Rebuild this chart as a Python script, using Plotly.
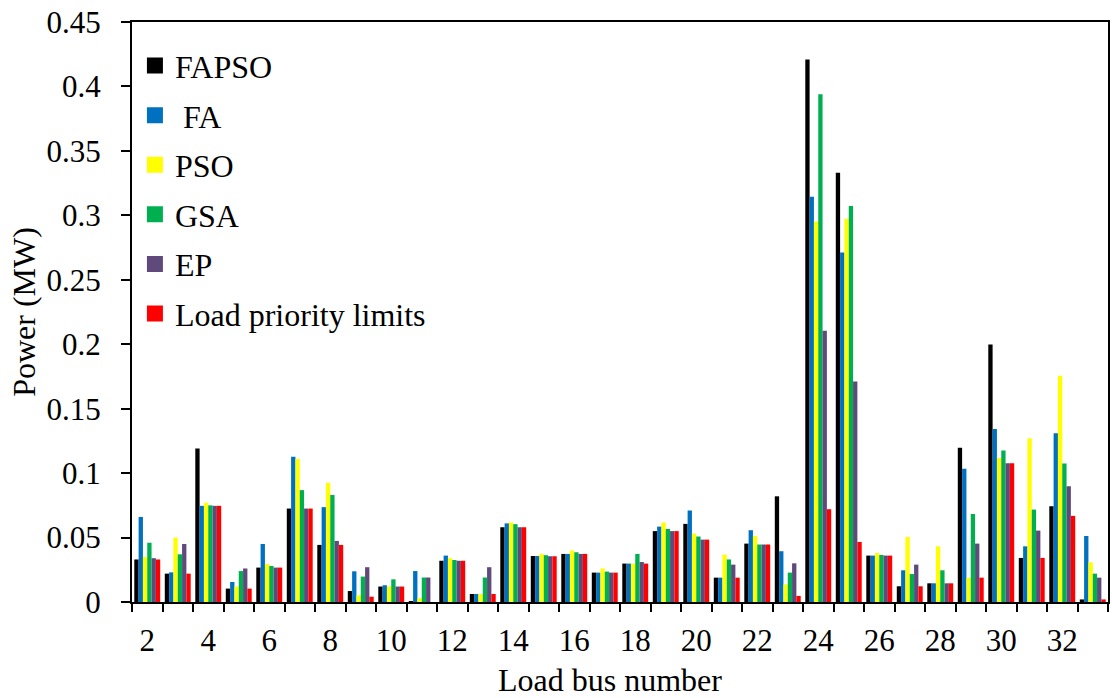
import plotly.graph_objects as go

# Load bus numbers on the x axis
buses = list(range(2, 34))

fapso = [0.033, 0.022, 0.119, 0.0104, 0.0267, 0.0725, 0.0443, 0.0085, 0.012, 0.0005,
         0.032, 0.0062, 0.058, 0.0357, 0.0373, 0.0228, 0.0298, 0.055, 0.0606, 0.0189,
         0.0453, 0.082, 0.421, 0.333, 0.036, 0.0122, 0.0145, 0.1196, 0.1998, 0.0342,
         0.0743, 0.002]
fa = [0.066, 0.023, 0.0746, 0.0155, 0.045, 0.1127, 0.0736, 0.0238, 0.013, 0.024,
      0.036, 0.0062, 0.061, 0.0357, 0.0373, 0.0228, 0.0298, 0.0585, 0.071, 0.0189,
      0.0557, 0.0394, 0.3144, 0.2712, 0.036, 0.0246, 0.0145, 0.1033, 0.1343, 0.0432,
      0.131, 0.0512]
pso = [0.035, 0.050, 0.077, 0.012, 0.0295, 0.111, 0.0925, 0.0052, 0.012, 0.003,
       0.034, 0.0062, 0.0617, 0.0373, 0.040, 0.026, 0.0298, 0.0617, 0.0531, 0.0368,
       0.0513, 0.0137, 0.2953, 0.2974, 0.038, 0.0505, 0.0432, 0.0189, 0.1118, 0.127,
       0.1755, 0.0308]
gsa = [0.046, 0.037, 0.075, 0.024, 0.028, 0.0868, 0.083, 0.0197, 0.0176, 0.019,
       0.0326, 0.019, 0.0604, 0.0363, 0.0386, 0.0236, 0.0373, 0.0567, 0.0508, 0.033,
       0.0446, 0.0228, 0.394, 0.3072, 0.0365, 0.0217, 0.0246, 0.0683, 0.1175, 0.0717,
       0.1074, 0.022]
ep = [0.034, 0.045, 0.0746, 0.026, 0.0267, 0.0725, 0.0474, 0.027, 0.012, 0.019,
      0.032, 0.027, 0.058, 0.0355, 0.0373, 0.0228, 0.031, 0.055, 0.0484, 0.029,
      0.0446, 0.030, 0.2104, 0.171, 0.036, 0.029, 0.0145, 0.0453, 0.1077, 0.0554,
      0.0898, 0.0189]
load_limits = [0.033, 0.022, 0.0746, 0.0104, 0.0267, 0.0725, 0.0443, 0.0041, 0.012, 0.0,
               0.032, 0.0062, 0.058, 0.0355, 0.0373, 0.0228, 0.0298, 0.055, 0.0484, 0.0189,
               0.0446, 0.0047, 0.072, 0.0466, 0.036, 0.0122, 0.0145, 0.0189, 0.1077, 0.0342,
               0.0668, 0.002]

series_names = ["FAPSO", " FA", "PSO", "GSA", "EP", "Load priority limits"]
series_values = [fapso, fa, pso, gsa, ep, load_limits]
series_colors = ["#000000", "#0070C0", "#FFFF00", "#00B050", "#604A7B", "#FF0000"]

x_tick_values = list(range(2, 33, 2))
x_tick_text = [str(v) for v in x_tick_values]
y_tick_values = [0, 0.05, 0.1, 0.15, 0.2, 0.25, 0.3, 0.35, 0.4, 0.45]
y_tick_text = ["0", "0.05", "0.1", "0.15", "0.2", "0.25", "0.3", "0.35", "0.4", "0.45"]

FONT = "Times New Roman, Liberation Serif, serif"
TICK_SIZE = 31
TEXT_SIZE = 32

fig = go.Figure()
for name, vals, col in zip(series_names, series_values, series_colors):
    fig.add_trace(go.Bar(x=buses, y=vals, name=name, marker=dict(color=col, line=dict(width=0)),
                         showlegend=False))

# Legend entries with larger square swatches
for i, (name, col) in enumerate(zip(series_names, series_colors)):
    fig.add_trace(go.Scatter(x=[None], y=[None], mode="markers", name=name,
                             legendgroup=f"g{i}",
                             marker=dict(symbol="square", size=18, color=col,
                                         line=dict(width=0))))

fig.update_layout(
    width=1112, height=698,
    margin=dict(l=132, r=2, t=22, b=96),
    paper_bgcolor="white", plot_bgcolor="white",
    barmode="group", bargap=0.15, bargroupgap=0,
    font=dict(family=FONT, size=TICK_SIZE, color="black"),
    legend=dict(x=0.003, y=0.972, xanchor="left", yanchor="top",
                bgcolor="rgba(0,0,0,0)", font=dict(family=FONT, size=TEXT_SIZE),
                itemsizing="trace", tracegroupgap=5),
    showlegend=True,
    annotations=[dict(text="Load bus number", xref="paper", yref="paper",
                      x=(611 - 132) / 978, y=-(680 - 602) / 580,
                      xanchor="center", yanchor="middle", showarrow=False,
                      font=dict(family=FONT, size=TEXT_SIZE, color="black"))],
)

fig.update_xaxes(
    range=[1.5, 33.5], tickmode="array", tickvals=x_tick_values, ticktext=x_tick_text,
    ticks="", showgrid=False, zeroline=False,
    showline=True, linecolor="black", linewidth=2, mirror=True,
    minor=dict(tickmode="linear", tick0=1.5, dtick=1, ticks="outside", ticklen=8,
               tickwidth=2, tickcolor="black", showgrid=False),
    ticklabelstandoff=10,
    tickfont=dict(family=FONT, size=TICK_SIZE),
)
fig.update_yaxes(
    range=[0, 0.45], tickmode="array", tickvals=y_tick_values, ticktext=y_tick_text,
    ticks="outside", ticklen=9, tickwidth=2, tickcolor="black",
    showgrid=False, zeroline=False,
    showline=True, linecolor="black", linewidth=2, mirror=True,
    ticklabelstandoff=14,
    tickfont=dict(family=FONT, size=TICK_SIZE),
    title=dict(text="Power (MW)", font=dict(family=FONT, size=TEXT_SIZE), standoff=1),
)

fig.write_html("out.html")
